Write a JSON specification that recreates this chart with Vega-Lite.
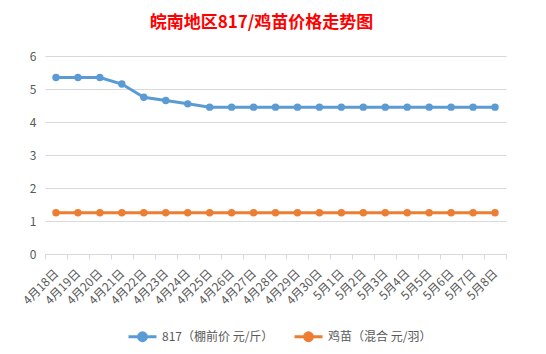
{
  "$schema": "https://vega.github.io/schema/vega-lite/v6.json",
  "width": 461,
  "height": 198,
  "autosize": "none",
  "padding": {"left": 45, "top": 56, "right": 40, "bottom": 100},
  "background": "white",
  "config": {
    "font": "Noto Sans CJK SC",
    "view": {"stroke": null}
  },
  "title": {
    "text": "皖南地区817/鸡苗价格走势图",
    "color": "#ff0000",
    "fontSize": 17,
    "fontWeight": "bold",
    "font": "Noto Sans CJK SC",
    "anchor": "middle",
    "dx": -14,
    "offset": 18
  },
  "data": {
    "values": [
      {"date": "4月18日", "series": "817（棚前价 元/斤）", "value": 5.35},
      {"date": "4月19日", "series": "817（棚前价 元/斤）", "value": 5.35},
      {"date": "4月20日", "series": "817（棚前价 元/斤）", "value": 5.35},
      {"date": "4月21日", "series": "817（棚前价 元/斤）", "value": 5.15},
      {"date": "4月22日", "series": "817（棚前价 元/斤）", "value": 4.75},
      {"date": "4月23日", "series": "817（棚前价 元/斤）", "value": 4.65},
      {"date": "4月24日", "series": "817（棚前价 元/斤）", "value": 4.55},
      {"date": "4月25日", "series": "817（棚前价 元/斤）", "value": 4.45},
      {"date": "4月26日", "series": "817（棚前价 元/斤）", "value": 4.45},
      {"date": "4月27日", "series": "817（棚前价 元/斤）", "value": 4.45},
      {"date": "4月28日", "series": "817（棚前价 元/斤）", "value": 4.45},
      {"date": "4月29日", "series": "817（棚前价 元/斤）", "value": 4.45},
      {"date": "4月30日", "series": "817（棚前价 元/斤）", "value": 4.45},
      {"date": "5月1日", "series": "817（棚前价 元/斤）", "value": 4.45},
      {"date": "5月2日", "series": "817（棚前价 元/斤）", "value": 4.45},
      {"date": "5月3日", "series": "817（棚前价 元/斤）", "value": 4.45},
      {"date": "5月4日", "series": "817（棚前价 元/斤）", "value": 4.45},
      {"date": "5月5日", "series": "817（棚前价 元/斤）", "value": 4.45},
      {"date": "5月6日", "series": "817（棚前价 元/斤）", "value": 4.45},
      {"date": "5月7日", "series": "817（棚前价 元/斤）", "value": 4.45},
      {"date": "5月8日", "series": "817（棚前价 元/斤）", "value": 4.45},
      {"date": "4月18日", "series": "鸡苗（混合 元/羽）", "value": 1.25},
      {"date": "4月19日", "series": "鸡苗（混合 元/羽）", "value": 1.25},
      {"date": "4月20日", "series": "鸡苗（混合 元/羽）", "value": 1.25},
      {"date": "4月21日", "series": "鸡苗（混合 元/羽）", "value": 1.25},
      {"date": "4月22日", "series": "鸡苗（混合 元/羽）", "value": 1.25},
      {"date": "4月23日", "series": "鸡苗（混合 元/羽）", "value": 1.25},
      {"date": "4月24日", "series": "鸡苗（混合 元/羽）", "value": 1.25},
      {"date": "4月25日", "series": "鸡苗（混合 元/羽）", "value": 1.25},
      {"date": "4月26日", "series": "鸡苗（混合 元/羽）", "value": 1.25},
      {"date": "4月27日", "series": "鸡苗（混合 元/羽）", "value": 1.25},
      {"date": "4月28日", "series": "鸡苗（混合 元/羽）", "value": 1.25},
      {"date": "4月29日", "series": "鸡苗（混合 元/羽）", "value": 1.25},
      {"date": "4月30日", "series": "鸡苗（混合 元/羽）", "value": 1.25},
      {"date": "5月1日", "series": "鸡苗（混合 元/羽）", "value": 1.25},
      {"date": "5月2日", "series": "鸡苗（混合 元/羽）", "value": 1.25},
      {"date": "5月3日", "series": "鸡苗（混合 元/羽）", "value": 1.25},
      {"date": "5月4日", "series": "鸡苗（混合 元/羽）", "value": 1.25},
      {"date": "5月5日", "series": "鸡苗（混合 元/羽）", "value": 1.25},
      {"date": "5月6日", "series": "鸡苗（混合 元/羽）", "value": 1.25},
      {"date": "5月7日", "series": "鸡苗（混合 元/羽）", "value": 1.25},
      {"date": "5月8日", "series": "鸡苗（混合 元/羽）", "value": 1.25}
    ]
  },
  "mark": {
    "type": "line",
    "strokeWidth": 3,
    "point": {"filled": true, "size": 55}
  },
  "encoding": {
    "x": {
      "field": "date",
      "type": "ordinal",
      "sort": null,
      "scale": {"type": "band", "paddingInner": 0, "paddingOuter": 0},
      "axis": {
        "title": null,
        "labelAngle": -45,
        "labelAlign": "right",
        "labelBaseline": "middle",
        "labelColor": "#595959",
        "labelFontSize": 12,
        "labelPadding": 12,
        "labelOverlap": false,
        "tickBand": "extent",
        "tickColor": "#d9d9d9",
        "tickSize": 5,
        "domainColor": "#d9d9d9",
        "grid": false
      }
    },
    "y": {
      "field": "value",
      "type": "quantitative",
      "scale": {"domain": [0, 6]},
      "axis": {
        "title": null,
        "values": [0, 1, 2, 3, 4, 5, 6],
        "labelOverlap": false,
        "domain": false,
        "ticks": false,
        "gridColor": "#d9d9d9",
        "labelColor": "#595959",
        "labelFontSize": 12,
        "labelPadding": 9
      }
    },
    "color": {
      "field": "series",
      "type": "nominal",
      "scale": {
        "domain": ["817（棚前价 元/斤）", "鸡苗（混合 元/羽）"],
        "range": ["#5b9bd5", "#ed7d31"]
      },
      "legend": {
        "title": null,
        "orient": "none",
        "legendX": 82,
        "legendY": 265,
        "direction": "horizontal",
        "labelColor": "#595959",
        "labelFontSize": 12,
        "symbolType": "M-1,0H1M-0.28,0A0.28,0.28 0 1,0 0.28,0A0.28,0.28 0 1,0 -0.28,0",
        "symbolSize": 784,
        "symbolStrokeWidth": 3,
        "columnPadding": 14,
        "labelOffset": 4
      }
    }
  }
}
